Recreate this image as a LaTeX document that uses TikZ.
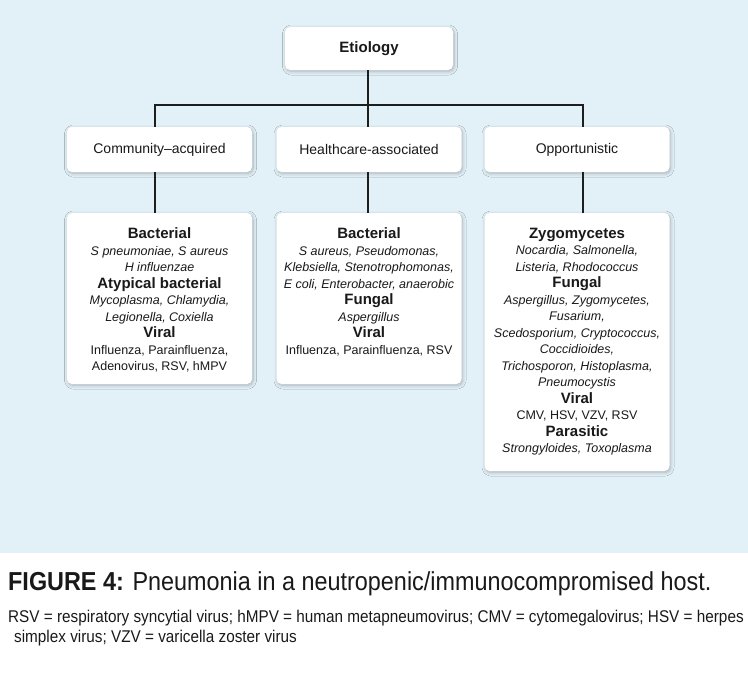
\documentclass[tikz,border=0pt]{standalone}
\usepackage{fontspec}
\setmainfont{Liberation Sans}
\newfontfamily\capfont[FakeStretch=0.9]{Liberation Sans}
\usetikzlibrary{shadows.blur}
\definecolor{bgblue}{RGB}{226,240,247}
\definecolor{txt}{RGB}{25,25,25}
\definecolor{ln}{RGB}{30,30,30}
\newcommand{\hd}[1]{{\fontsize{15}{16.5}\selectfont\bfseries #1}}
\newcommand{\itm}[1]{{\itshape #1}}
\begin{document}
\begin{tikzpicture}[x=1pt,y=-1pt,
  box/.style={fill=white, rounded corners=5pt, inner sep=0pt,
    blur shadow={shadow blur steps=8, shadow xshift=1pt, shadow yshift=-1.5pt, shadow blur radius=3.5pt, shadow opacity=25}},
  toptext/.style={font=\fontsize{14}{16}\selectfont, text=txt},
  content/.style={anchor=north, inner sep=0pt, align=center, text=txt,
    font=\fontsize{12.5}{16.5}\selectfont},
  conn/.style={draw=ln, line width=1.6pt}]
\useasboundingbox (0,0) rectangle (748,678);
\fill[bgblue] (0,0) rectangle (748,553);
% top
\node[box, minimum width=168pt, minimum height=43pt, font=\fontsize{15}{16}\selectfont\bfseries, text=txt] (root) at (369,48.5) {Etiology};
% row 2
\node[box, minimum width=185pt, minimum height=45pt, toptext] (ca) at (159.5,149.5) {Community--acquired};
\node[box, minimum width=185pt, minimum height=45pt, toptext] (ha) at (369,149.5) {Healthcare-associated};
\node[box, minimum width=185pt, minimum height=45pt, toptext] (op) at (577,149.5) {Opportunistic};
% row 3
\node[box, minimum width=185pt, minimum height=171pt] (cab) at (159.5,298.5) {};
\node[box, minimum width=185pt, minimum height=171pt] (hab) at (369,298.5) {};
\node[box, minimum width=185pt, minimum height=258pt] (opb) at (577,342) {};
% connectors
\coordinate (bus) at (368,105);
\coordinate (caT) at ([xshift=-4.5pt]ca.north);
\coordinate (haT) at ([xshift=-1pt]ha.north);
\coordinate (opT) at ([xshift=6pt]op.north);
\coordinate (caB) at ([xshift=-4.5pt]ca.south);
\coordinate (haB) at ([xshift=-1pt]ha.south);
\coordinate (opB) at ([xshift=6pt]op.south);
\coordinate (cabT) at ([xshift=-4.5pt]cab.north);
\coordinate (habT) at ([xshift=-1pt]hab.north);
\coordinate (opbT) at ([xshift=6pt]opb.north);
\draw[conn] ([xshift=-1pt]root.south) -- (bus);
\draw[conn] (caT) |- (bus) -| (opT);
\draw[conn] (bus) -- (haT);
\draw[conn] (caB) -- (cabT);
\draw[conn] (haB) -- (habT);
\draw[conn] (opB) -- (opbT);
% contents
\node[content] (cat) at ([yshift=-15pt]cab.north) {\hd{Bacterial}\\
\itm{S pneumoniae, S aureus}\\
\itm{H influenzae}\\
\hd{Atypical bacterial}\\
\itm{Mycoplasma, Chlamydia,}\\
\itm{Legionella, Coxiella}\\
\hd{Viral}\\
Influenza, Parainfluenza,\\
Adenovirus, RSV, hMPV};
\node[content] (hat) at ([yshift=-15pt]hab.north) {\hd{Bacterial}\\
\itm{S aureus, Pseudomonas,}\\
\itm{Klebsiella, Stenotrophomonas,}\\
\itm{E coli, Enterobacter, anaerobic}\\
\hd{Fungal}\\
\itm{Aspergillus}\\
\hd{Viral}\\
Influenza, Parainfluenza, RSV};
\node[content] (opt) at ([yshift=-15pt]opb.north) {\hd{Zygomycetes}\\
\itm{Nocardia, Salmonella,}\\
\itm{Listeria, Rhodococcus}\\
\hd{Fungal}\\
\itm{Aspergillus, Zygomycetes,}\\
\itm{Fusarium,}\\
\itm{Scedosporium, Cryptococcus,}\\
\itm{Coccidioides,}\\
\itm{Trichosporon, Histoplasma,}\\
\itm{Pneumocystis}\\
\hd{Viral}\\
CMV, HSV, VZV, RSV\\
\hd{Parasitic}\\
\itm{Strongyloides, Toxoplasma}};
% caption
\node[anchor=base west, inner sep=0pt, text=txt, font=\capfont\fontsize{26}{28}\selectfont] (cap) at (8,590) {\textbf{FIGURE 4:} Pneumonia in a neutropenic/immunocompromised host.};
\node[anchor=base west, inner sep=0pt, text=txt, font=\capfont\fontsize{17}{20}\selectfont] (fn1) at (8,622) {RSV = respiratory syncytial virus; hMPV = human metapneumovirus; CMV = cytomegalovirus; HSV = herpes};
\node[anchor=base west, inner sep=0pt, text=txt, font=\capfont\fontsize{17}{20}\selectfont] (fn2) at (14,642) {simplex virus; VZV = varicella zoster virus};
\end{tikzpicture}
\end{document}
